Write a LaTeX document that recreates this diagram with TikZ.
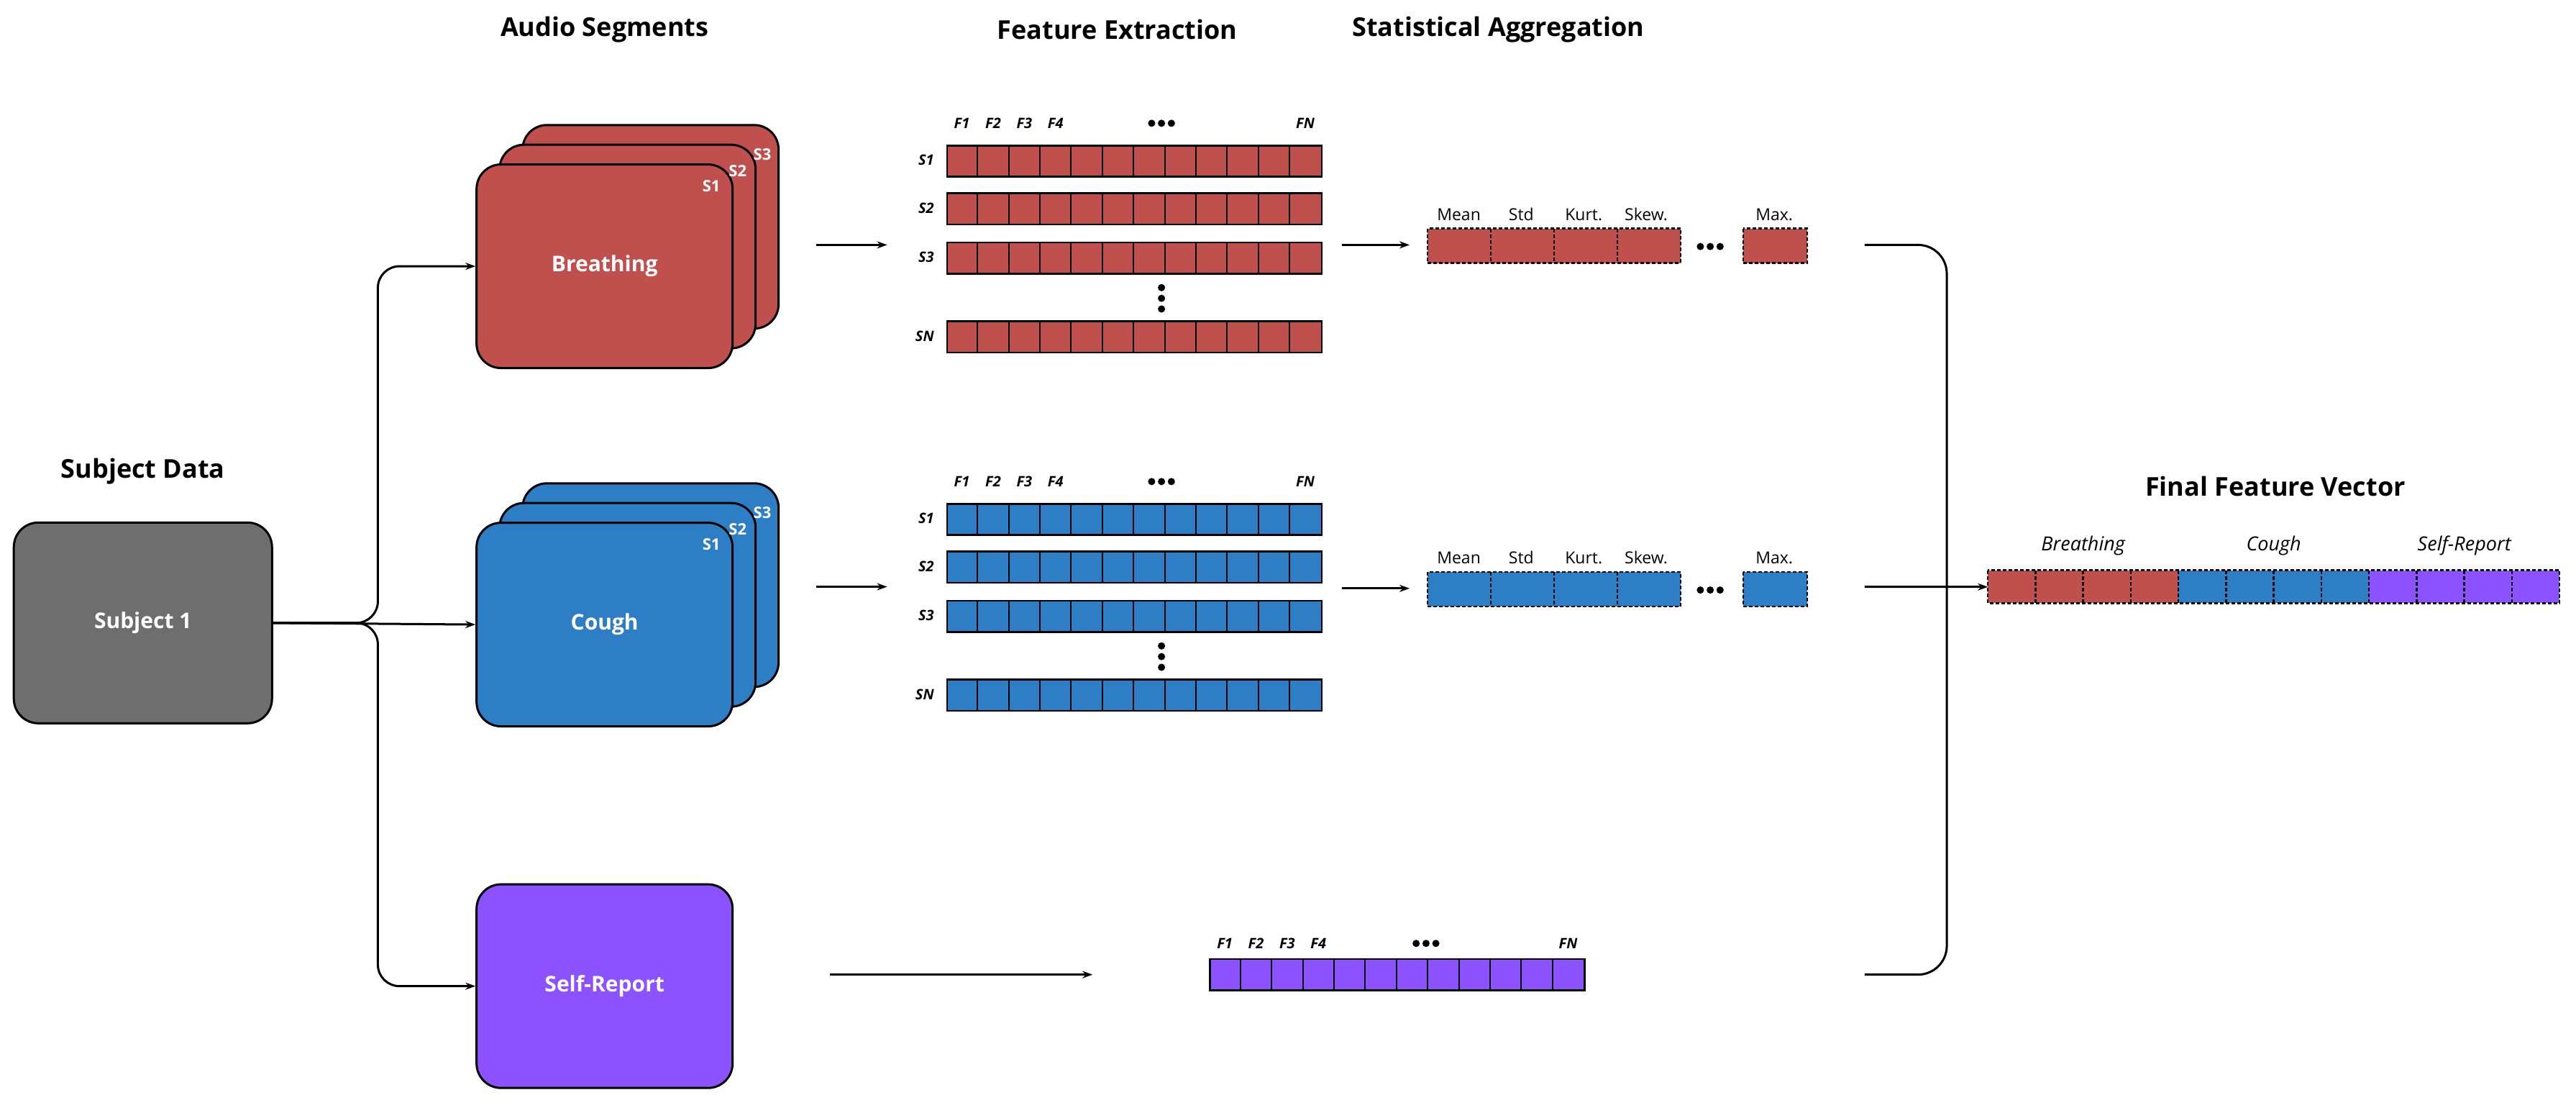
\documentclass[tikz,border=0pt]{standalone}
\usepackage{fontspec}
\setmainfont{Open Sans}
\usetikzlibrary{arrows.meta}
\definecolor{cred}{HTML}{C0504D}
\definecolor{cblue}{HTML}{2E7EC6}
\definecolor{cpurp}{HTML}{8C52FF}
\definecolor{cgray}{HTML}{6E6E6E}
\begin{document}
\begin{tikzpicture}[x=2.2844pt,y=-2.2844pt,
  box/.style={draw=black,line width=3pt,rounded corners=34pt,minimum width=356pt,minimum height=283pt,inner sep=0pt,font=\fontsize{30}{36}\selectfont\bfseries,text=white},
  hdr/.style={font=\fontsize{36}{42}\selectfont\bfseries},
  row/.style={draw=black,line width=2.5pt,minimum width=520.8pt,minimum height=43.4pt,inner sep=0pt,anchor=north west},
  lab/.style={font=\fontsize{20}{24}\selectfont\bfseries\itshape},
  slab/.style={font=\fontsize{22}{26}\selectfont\bfseries,text=white},
  alab/.style={font=\fontsize{23}{28}\selectfont,anchor=base},
  flab/.style={font=\fontsize{27}{32}\selectfont\itshape,anchor=base},
  arr/.style={-{Stealth[length=14pt,width=10pt]},line width=3pt},
  con/.style={line width=3pt},
  dsh/.style={line width=2.5pt,dash pattern=on 5pt off 3pt}]
\useasboundingbox (0,0) rectangle (1568,676.8);
% headers
\node[hdr] (hsd) at (87,287) {Subject Data};
\node[hdr] (has) at (368,18) {Audio Segments};
\node[hdr] (hfe) at (680,18) {Feature Extraction};
\node[hdr] (hsa) at (912,18) {Statistical Aggregation};
\node[hdr] (hfv) at (1385,296) {Final Feature Vector};
% subject
\node[box,fill=cgray,minimum width=359pt,minimum height=279pt] (subj) at (87,379) {Subject 1};
% breathing stack
\node[box,fill=cred] (b3) at (396,138) {};
\node[box,fill=cred] (b2) at (382,150) {};
\node[box,fill=cred] (b1) at (368,162) {Breathing};
\node[slab] at (464,94) {S3};
\node[slab] at (449,104) {S2};
\node[slab] at (433,113) {S1};
% cough stack
\node[box,fill=cblue] (c3) at (396,356) {};
\node[box,fill=cblue] (c2) at (382,368) {};
\node[box,fill=cblue] (c1) at (368,380) {Cough};
\node[slab] at (464,312) {S3};
\node[slab] at (449,322) {S2};
\node[slab] at (433,331) {S1};
% self report
\node[box,fill=cpurp] (sr) at (368,600) {Self-Report};
% subject connectors
\draw[arr] (subj.east) -- (c1.west);
\draw[arr,rounded corners=30pt] (subj.east) -- (230,379) -- (230,162) -- (b1.west);
\draw[arr,rounded corners=30pt] (subj.east) -- (230,379) -- (230,600) -- (sr.west);
% feature rows
\foreach \c/\yy/\p in {cred/0/b,cblue/218/c}{
  \foreach \s/\ry in {S1/88,S2/117,S3/147,SN/195}{
    \node[row,fill=\c] (\p\s) at (576,\ry+\yy) {};
    \foreach \k in {1,...,11} \draw[line width=2pt] (576+\k*19,\ry+\yy) -- ++(0,19);
    \node[lab,anchor=east] at (570,\ry+\yy+9.5) {\s};
  }
  \foreach \t/\xx in {F1/585.5,F2/604.5,F3/623.5,F4/642.5,FN/794.5}
    \node[lab] at (\xx,75+\yy) {\t};
  \foreach \xx in {701,707,713} \fill (\xx,75+\yy) circle (2.2);
  \foreach \yv in {175,181.5,188} \fill (707,\yv+\yy) circle (2.2);
}
% self report row
\node[row,fill=cpurp] (srrow) at (736,583) {};
\foreach \k in {1,...,11} \draw[line width=2pt] (736+\k*19,583) -- ++(0,19);
\foreach \t/\xx in {F1/745.5,F2/764.5,F3/783.5,F4/802.5,FN/954.5}
  \node[lab] at (\xx,574) {\t};
\foreach \xx in {862,868,874} \fill (\xx,574) circle (2.2);
% arrows to rows
\coordinate (bA) at (497,149); \coordinate (bB) at (540,149);
\coordinate (cA) at (497,357); \coordinate (cB) at (540,357);
\coordinate (sA) at (505,593); \coordinate (sB) at (665,593);
\draw[arr] (bA) -- (bB);
\draw[arr] (cA) -- (cB);
\draw[arr] (sA) -- (sB);
% aggregation
\foreach \c/\yy/\p in {cred/0/ba,cblue/209/ca}{
  \fill[\c] (869,139+\yy) rectangle (1023,160+\yy);
  \fill[\c] (1061,139+\yy) rectangle (1100,160+\yy);
  \draw[dsh] (869,139+\yy) rectangle (1023,160+\yy);
  \draw[dsh] (1061,139+\yy) rectangle (1100,160+\yy);
  \foreach \xx in {907.5,946,984.5} \draw[dsh] (\xx,139+\yy) -- (\xx,160+\yy);
  \foreach \t/\xx in {Mean/888,Std/926,Kurt./964,Skew./1002,Max./1080}
    \node[alab] at (\xx,134+\yy) {\t};
  \foreach \xx in {1035,1041,1047} \fill (\xx,150+\yy) circle (2.2);
  \coordinate (\p1) at (817,149+\yy); \coordinate (\p2) at (858,149+\yy);
  \draw[arr] (\p1) -- (\p2);
}
% final vector
\fill[cred] (1210,347) rectangle (1326,367);
\fill[cblue] (1326,347) rectangle (1442,367);
\fill[cpurp] (1442,347) rectangle (1558,367);
\node[draw=none,minimum width=794.9pt,minimum height=45.7pt,inner sep=0pt,anchor=north west] (fv) at (1210,347) {};
\draw[dsh] (1210,347) rectangle (1558,367);
\foreach \k in {1,...,11} \draw[dsh] (1210+\k*29,347) -- ++(0,20);
\node[flab] at (1268,335) {Breathing};
\node[flab] at (1384,335) {Cough};
\node[flab] at (1500,335) {Self-Report};
% merge
\coordinate (m1) at (1135,149);
\coordinate (m2) at (1135,357);
\coordinate (m3) at (1135,593);
\draw[con,rounded corners=40pt] (m1) -- (1185,149) -- (1185,593) -- (m3);
\draw[arr] (m2) -- (fv.west);
\end{tikzpicture}
\end{document}
